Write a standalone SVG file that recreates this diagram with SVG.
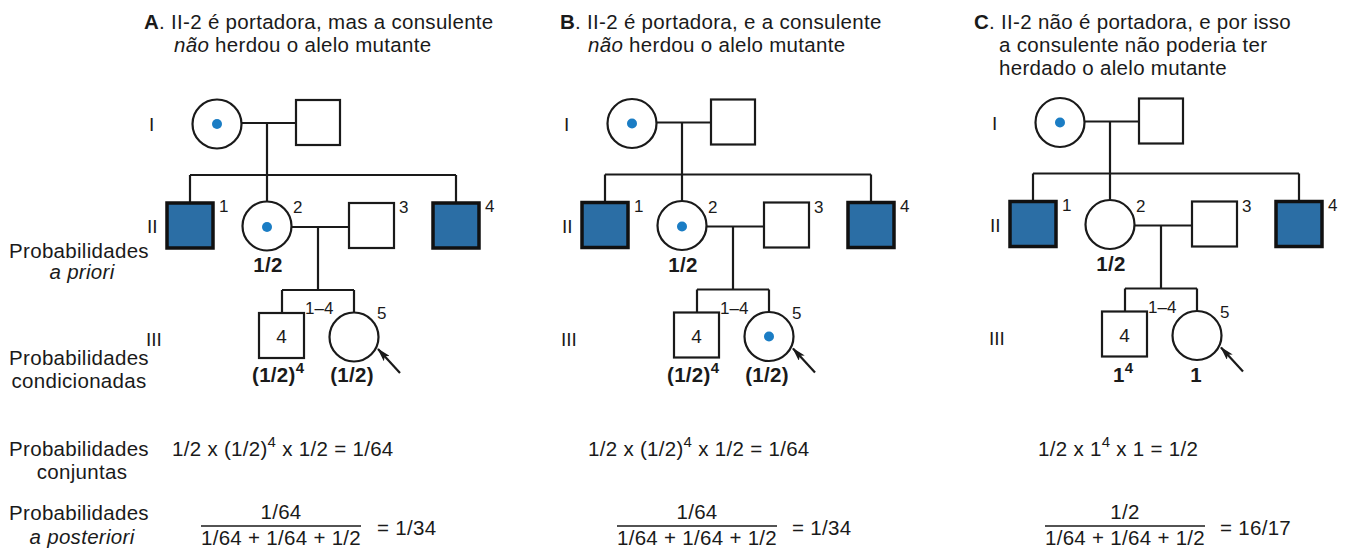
<svg xmlns="http://www.w3.org/2000/svg" width="1351" height="551" viewBox="0 0 1351 551">
  <style>
    text { font-family: "Liberation Sans", Arial, Helvetica, sans-serif; fill: #1a1a1a; }
    .t { font-size: 20.5px; letter-spacing: 0.3px; }
    .n { font-size: 17px; }
    .in { font-size: 19px; }
    .gen { font-size: 19px; }
    .sup { font-size: 15px; }
    .b { font-weight: bold; }
    .i { font-style: italic; }
    .mid { text-anchor: middle; }
    .ln { stroke: #1a1a1a; stroke-width: 2.2; fill: none; }
    .open { fill: #fff; stroke: #1a1a1a; stroke-width: 2.2; }
    .aff { fill: #2b6ea5; stroke: #111; stroke-width: 3.5; }
    .dot { fill: #1b7dc4; }
    .bar { stroke: #1a1a1a; stroke-width: 1.5; }
  </style>
  <defs>
    <marker id="arr" viewBox="0 0 14 8" refX="13" refY="4" markerWidth="14" markerHeight="8" markerUnits="userSpaceOnUse" orient="auto">
      <path d="M0 0 L14 4 L0 8 L3 4 Z" fill="#1a1a1a"/>
    </marker>
  </defs>

  <rect width="1351" height="551" fill="#fff"/>

  <!-- row labels on the left -->
  <g id="row-labels">
    <text class="t mid" x="79" y="258">Probabilidades</text>
    <text class="t mid i" x="82" y="279">a priori</text>
    <text class="t mid" x="79" y="365">Probabilidades</text>
    <text class="t mid" x="79" y="388">condicionadas</text>
    <text class="t mid" x="79" y="456">Probabilidades</text>
    <text class="t mid" x="82" y="479">conjuntas</text>
    <text class="t mid" x="79" y="520">Probabilidades</text>
    <text class="t mid i" x="82" y="544">a posteriori</text>
  </g>

  <!-- ===== Panel A ===== -->
  <g id="panel-a">
    <text class="t" x="144" y="29"><tspan class="b">A</tspan>. II-2 é portadora, mas a consulente</text>
    <text class="t" x="174" y="52"><tspan class="i">não</tspan> herdou o alelo mutante</text>

    <g id="a-gen">
      <text class="gen" x="149" y="131">I</text>
      <text class="gen" x="147" y="233">II</text>
      <text class="gen" x="146" y="346">III</text>
    </g>

    <g id="a-connectors" class="ln">
      <path d="M241.5 123 H296"/>
      <path d="M267 123 V175"/>
      <path d="M190 175 H456"/>
      <path d="M190 175 V203"/>
      <path d="M267 175 V201.5"/>
      <path d="M456 175 V203"/>
      <path d="M291.5 227 H349"/>
      <path d="M318 227 V290"/>
      <path d="M282 290 H354"/>
      <path d="M282 290 V313"/>
      <path d="M354 290 V312.5"/>
      <path d="M400 373 L378 349" marker-end="url(#arr)"/>
    </g>

    <g id="a-I1"><circle class="open" cx="217" cy="124" r="24.5"/><circle class="dot" cx="217" cy="124" r="5"/></g>
    <g id="a-I2"><rect class="open" x="296" y="100" width="44" height="45"/></g>
    <g id="a-II1"><rect class="aff" x="167" y="203" width="46" height="45"/><text class="n" x="219" y="212">1</text></g>
    <g id="a-II2"><circle class="open" cx="267" cy="226" r="24.5"/><circle class="dot" cx="267" cy="227" r="5"/><text class="n" x="293" y="213">2</text><text class="t b mid" x="268" y="272">1/2</text></g>
    <g id="a-II3"><rect class="open" x="349" y="203" width="45" height="45"/><text class="n" x="399" y="213">3</text></g>
    <g id="a-II4"><rect class="aff" x="433" y="203" width="46" height="45"/><text class="n" x="485" y="212">4</text></g>
    <g id="a-III1"><rect class="open" x="259" y="313" width="45" height="45"/><text class="in mid" x="281.5" y="343">4</text><text class="n" x="305" y="314">1–4</text><text class="t b" x="252" y="382">(1/2)<tspan class="sup" dy="-9">4</tspan></text></g>
    <g id="a-III5"><circle class="open" cx="354" cy="337" r="24.5"/><text class="n" x="377" y="319">5</text><text class="t b mid" x="352" y="382">(1/2)</text></g>

    <g id="a-calc">
      <text class="t" x="172" y="456">1/2 x (1/2)<tspan class="sup" dy="-9">4</tspan><tspan dy="9"> x 1/2 = 1/64</tspan></text>
      <text class="t mid" x="281" y="519">1/64</text>
      <line class="bar" x1="201" y1="526" x2="361" y2="526"/>
      <text class="t mid" x="281" y="545">1/64 + 1/64 + 1/2</text>
      <text class="t" x="377" y="535">= 1/34</text>
    </g>
  </g>

  <!-- ===== Panel B ===== -->
  <g id="panel-b">
    <text class="t" x="560" y="29"><tspan class="b">B</tspan>. II-2 é portadora, e a consulente</text>
    <text class="t" x="588" y="52"><tspan class="i">não</tspan> herdou o alelo mutante</text>

    <g transform="translate(415,-0.5)">
      <g id="b-gen">
        <text class="gen" x="149" y="131">I</text>
        <text class="gen" x="147" y="233">II</text>
        <text class="gen" x="146" y="346">III</text>
      </g>
      <g id="b-connectors" class="ln">
        <path d="M241.5 123 H296"/>
        <path d="M267 123 V175"/>
        <path d="M190 175 H456"/>
        <path d="M190 175 V203"/>
        <path d="M267 175 V201.5"/>
        <path d="M456 175 V203"/>
        <path d="M291.5 227 H349"/>
        <path d="M318 227 V290"/>
        <path d="M282 290 H354"/>
        <path d="M282 290 V313"/>
        <path d="M354 290 V312.5"/>
        <path d="M400 373 L378 349" marker-end="url(#arr)"/>
      </g>
      <g id="b-I1"><circle class="open" cx="217" cy="124" r="24.5"/><circle class="dot" cx="217" cy="124" r="5"/></g>
      <g id="b-I2"><rect class="open" x="296" y="100" width="44" height="45"/></g>
      <g id="b-II1"><rect class="aff" x="167" y="203" width="46" height="45"/><text class="n" x="219" y="212">1</text></g>
      <g id="b-II2"><circle class="open" cx="267" cy="226" r="24.5"/><circle class="dot" cx="267" cy="227" r="5"/><text class="n" x="293" y="213">2</text><text class="t b mid" x="268" y="272">1/2</text></g>
      <g id="b-II3"><rect class="open" x="349" y="203" width="45" height="45"/><text class="n" x="399" y="213">3</text></g>
      <g id="b-II4"><rect class="aff" x="433" y="203" width="46" height="45"/><text class="n" x="485" y="212">4</text></g>
      <g id="b-III1"><rect class="open" x="259" y="313" width="45" height="45"/><text class="in mid" x="281.5" y="343">4</text><text class="n" x="305" y="314">1–4</text><text class="t b" x="252" y="382">(1/2)<tspan class="sup" dy="-9">4</tspan></text></g>
      <g id="b-III5"><circle class="open" cx="354" cy="337" r="24.5"/><circle class="dot" cx="354" cy="337" r="5"/><text class="n" x="377" y="319">5</text><text class="t b mid" x="352" y="382">(1/2)</text></g>
    </g>

    <g id="b-calc">
      <text class="t" x="588" y="456">1/2 x (1/2)<tspan class="sup" dy="-9">4</tspan><tspan dy="9"> x 1/2 = 1/64</tspan></text>
      <text class="t mid" x="697" y="519">1/64</text>
      <line class="bar" x1="617" y1="526" x2="777" y2="526"/>
      <text class="t mid" x="697" y="545">1/64 + 1/64 + 1/2</text>
      <text class="t" x="792" y="535">= 1/34</text>
    </g>
  </g>

  <!-- ===== Panel C ===== -->
  <g id="panel-c">
    <text class="t" x="974" y="29"><tspan class="b">C</tspan>. II-2 não é portadora, e por isso</text>
    <text class="t" x="999" y="52">a consulente não poderia ter</text>
    <text class="t" x="999" y="75">herdado o alelo mutante</text>

    <g transform="translate(843,-1.5)">
      <g id="c-gen">
        <text class="gen" x="149" y="131">I</text>
        <text class="gen" x="147" y="233">II</text>
        <text class="gen" x="146" y="346">III</text>
      </g>
      <g id="c-connectors" class="ln">
        <path d="M241.5 123 H296"/>
        <path d="M267 123 V175"/>
        <path d="M190 175 H456"/>
        <path d="M190 175 V203"/>
        <path d="M267 175 V201.5"/>
        <path d="M456 175 V203"/>
        <path d="M291.5 227 H349"/>
        <path d="M318 227 V290"/>
        <path d="M282 290 H354"/>
        <path d="M282 290 V313"/>
        <path d="M354 290 V312.5"/>
        <path d="M400 373 L378 349" marker-end="url(#arr)"/>
      </g>
      <g id="c-I1"><circle class="open" cx="217" cy="124" r="24.5"/><circle class="dot" cx="217" cy="124" r="5"/></g>
      <g id="c-I2"><rect class="open" x="296" y="100" width="44" height="45"/></g>
      <g id="c-II1"><rect class="aff" x="167" y="203" width="46" height="45"/><text class="n" x="219" y="212">1</text></g>
      <g id="c-II2"><circle class="open" cx="267" cy="226" r="24.5"/><text class="n" x="293" y="213">2</text><text class="t b mid" x="268" y="272">1/2</text></g>
      <g id="c-II3"><rect class="open" x="349" y="203" width="45" height="45"/><text class="n" x="399" y="213">3</text></g>
      <g id="c-II4"><rect class="aff" x="433" y="203" width="46" height="45"/><text class="n" x="485" y="212">4</text></g>
      <g id="c-III1"><rect class="open" x="259" y="313" width="45" height="45"/><text class="in mid" x="281.5" y="343">4</text><text class="n" x="305" y="314">1–4</text><text class="t b" x="270" y="383">1<tspan class="sup" dy="-9">4</tspan></text></g>
      <g id="c-III5"><circle class="open" cx="354" cy="337" r="24.5"/><text class="n" x="377" y="319">5</text><text class="t b mid" x="353" y="383">1</text></g>
    </g>

    <g id="c-calc">
      <text class="t" x="1038" y="456">1/2 x 1<tspan class="sup" dy="-9">4</tspan><tspan dy="9"> x 1 = 1/2</tspan></text>
      <text class="t mid" x="1125" y="519">1/2</text>
      <line class="bar" x1="1045" y1="526" x2="1205" y2="526"/>
      <text class="t mid" x="1125" y="545">1/64 + 1/64 + 1/2</text>
      <text class="t" x="1220" y="535">= 16/17</text>
    </g>
  </g>
</svg>
